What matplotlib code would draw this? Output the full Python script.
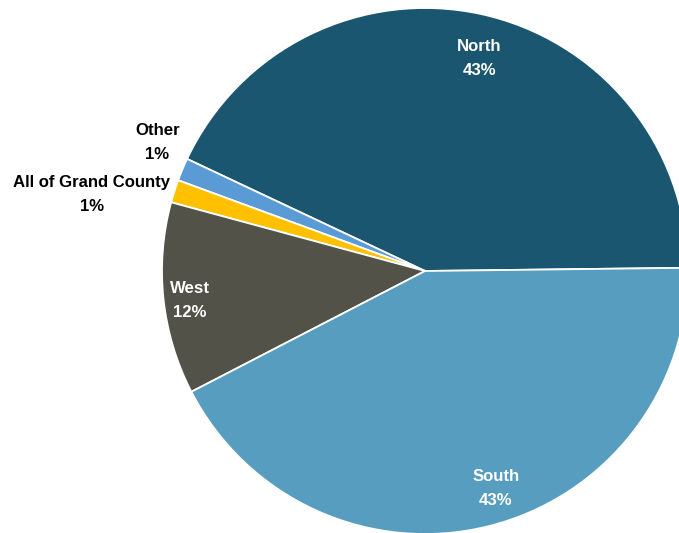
import numpy as np
import matplotlib
matplotlib.use("Agg")
import matplotlib.pyplot as plt

# Share of responses by area
areas = ["North", "Other", "All of Grand County", "West", "South"]
shares = [42.8, 1.4, 1.4, 11.8, 42.6]
colors = ["#1B5670", "#5B9BD5", "#FFC000", "#525248", "#579DC0"]

# Label placement: (radius factor, angle tweak in degrees, text colour)
label_style = {
    "North": (0.835, -2.0, "white"),
    "Other": (1.13, -3.0, "black"),
    "All of Grand County": (1.30, 4.7, "black"),
    "West": (0.90, 1.0, "white"),
    "South": (0.87, 4.0, "white"),
}

W, H = 679, 533
fig = plt.figure(figsize=(W / 100, H / 100), dpi=100)
ax = fig.add_axes([0, 0, 1, 1])

R = 263
cx, cy = 425, H - 271

wedges, _ = ax.pie(
    shares,
    colors=colors,
    startangle=0.7,
    counterclock=True,
    radius=R,
    center=(0, 0),
    wedgeprops=dict(edgecolor="white", linewidth=1.3),
)

font = ["Liberation Sans", "DejaVu Sans"]
for w, name, val in zip(wedges, areas, shares):
    rf, dth, col = label_style[name]
    mid = np.deg2rad((w.theta1 + w.theta2) / 2 + dth)
    x, y = rf * R * np.cos(mid), rf * R * np.sin(mid)
    ax.text(x, y, f"{name}\n{val:.0f}%", ha="center", va="center",
            color=col, fontsize=12.1, fontweight="bold", family=font,
            linespacing=1.75)

ax.set_xlim(-cx, W - cx)
ax.set_ylim(-cy, H - cy)
ax.set_aspect("equal")
ax.axis("off")

fig.savefig("out.png", dpi=100)
